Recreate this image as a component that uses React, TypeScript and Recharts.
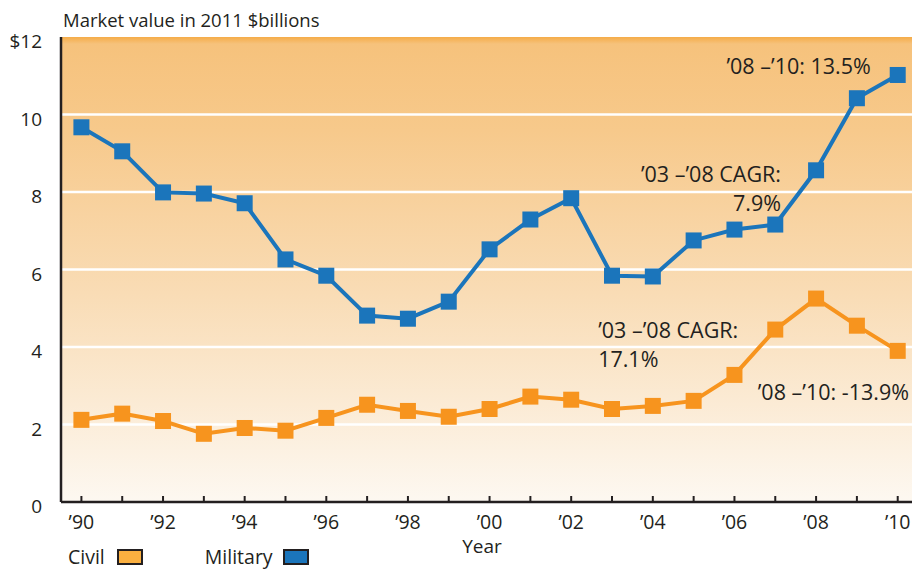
import React from "react";
import {
  LineChart,
  Line,
  XAxis,
  YAxis,
  CartesianGrid,
  ReferenceDot,
} from "recharts";

// Market value in 2011 $billions
const years = [
  1990, 1991, 1992, 1993, 1994, 1995, 1996, 1997, 1998, 1999, 2000,
  2001, 2002, 2003, 2004, 2005, 2006, 2007, 2008, 2009, 2010,
];
const military = [
  9.67, 9.05, 7.99, 7.96, 7.71, 6.26, 5.84, 4.81, 4.73, 5.17, 6.52,
  7.29, 7.84, 5.84, 5.82, 6.75, 7.03, 7.16, 8.56, 10.42, 11.02,
];
const civil = [
  2.12, 2.28, 2.09, 1.76, 1.91, 1.84, 2.17, 2.51, 2.35, 2.2, 2.4,
  2.72, 2.64, 2.4, 2.48, 2.61, 3.28, 4.45, 5.25, 4.55, 3.9,
];
const yTicks = [0, 2, 4, 6, 8, 10, 12];
const gridValues = [2, 4, 6, 8, 10];

// annotation text, anchored in data units (first line centre)
const notes = [
  { x: 2009.34, y: 11.25, anchor: "end", gap: 0, lines: ["\u201908 \u2013\u201910: 13.5%"] },
  { x: 2007.14, y: 8.46, anchor: "end", gap: 29, lines: ["\u201903 \u2013\u201908 CAGR:", "7.9%"] },
  { x: 2002.66, y: 4.44, anchor: "start", gap: 29, lines: ["\u201903 \u2013\u201908 CAGR:", "17.1%"] },
  { x: 2006.57, y: 2.84, anchor: "start", gap: 0, lines: ["\u201908 \u2013\u201910: -13.9%"] },
];

const data = years.map((y, i) => ({ year: y, military: military[i], civil: civil[i] }));

const INK = "#231f20";
const BLUE = "#1b75bb";
const ORANGE = "#f7941e";
const FONT = "'Open Sans', sans-serif";

const Square = (color: string) => (props: any) => {
  const { cx, cy } = props;
  if (cx == null || cy == null) return null;
  return <rect x={cx - 8} y={cy - 8} width={16} height={16} fill={color} />;
};

const XTick = (props: any) => {
  const { x, y, payload } = props;
  const yr = payload.value as number;
  return (
    <g>
      <line x1={x} x2={x} y1={y} y2={y - 6} stroke={INK} strokeWidth={2} />
      {yr % 2 === 0 && (
        <text x={x} y={y + 27} textAnchor="middle" fill={INK} fontSize={19.5} fontFamily={FONT}>
          {"\u2019" + String(yr).slice(2)}
        </text>
      )}
    </g>
  );
};

const YTick = (props: any) => {
  const { x, y, payload } = props;
  const v = payload.value as number;
  return (
    <text x={x} y={y + 11} textAnchor="end" fill={INK} fontSize={19} fontFamily={FONT}>
      {v === 12 ? "$12" : String(v)}
    </text>
  );
};

const NoteText = (lines: string[], anchor: string, gap: number) => (props: any) => {
  const { cx, cy } = props;
  return (
    <text x={cx} y={cy + 8} textAnchor={anchor} fill={INK} fontSize={21.5} fontFamily={FONT}>
      {lines.map((l, i) => (
        <tspan key={i} x={cx} dy={i === 0 ? 0 : gap}>
          {l}
        </tspan>
      ))}
    </text>
  );
};

export default function App() {
  return (
    <div style={{ position: "absolute", left: 0, top: 0, width: 913, height: 569, background: "#fff", fontFamily: FONT, color: INK }}>
      <div style={{ position: "absolute", left: 63, top: 8, fontSize: 18.5, lineHeight: "24px" }}>Market value in 2011 $billions</div>
      <LineChart width={913} height={569} data={data} margin={{ top: 37, right: 1, left: 0, bottom: 37 }}>
        <defs>
          <linearGradient id="bg" x1="0" y1="0" x2="0" y2="1">
            <stop offset="0" stopColor="#f5ac48" />
            <stop offset="0.015" stopColor="#f6c27c" />
            <stop offset="0.2" stopColor="#f7c98b" />
            <stop offset="0.55" stopColor="#f9dcb5" />
            <stop offset="1" stopColor="#fdf8f1" />
          </linearGradient>
        </defs>
        <CartesianGrid
          vertical={false}
          horizontalValues={gridValues}
          stroke="#ffffff"
          strokeWidth={2.5}
          fill="url(#bg)"
          fillOpacity={1}
        />
        <XAxis
          dataKey="year"
          type="number"
          domain={[1989.5, 2010.35]}
          ticks={years}
          interval={0}
          height={30}
          tickSize={0}
          tickMargin={0}
          tick={<XTick />}
          axisLine={{ stroke: INK, strokeWidth: 2.5 }}
          allowDataOverflow
        />
        <YAxis
          type="number"
          domain={[0, 12]}
          ticks={yTicks}
          width={61}
          tickSize={0}
          tickMargin={19}
          tick={<YTick />}
          axisLine={{ stroke: INK, strokeWidth: 2.5 }}
        />
        <Line
          dataKey="military"
          stroke={BLUE}
          strokeWidth={4}
          dot={Square(BLUE)}
          activeDot={false}
          isAnimationActive={false}
        />
        <Line
          dataKey="civil"
          stroke={ORANGE}
          strokeWidth={4}
          dot={Square(ORANGE)}
          activeDot={false}
          isAnimationActive={false}
        />
        {notes.map((n, i) => (
          <ReferenceDot key={i} x={n.x} y={n.y} r={0} shape={NoteText(n.lines, n.anchor, n.gap)} ifOverflow="visible" />
        ))}
      </LineChart>
      <div style={{ position: "absolute", left: 482, top: 536, fontSize: 19, lineHeight: "20px", transform: "translateX(-50%)" }}>Year</div>
      <div style={{ position: "absolute", left: 68, top: 547, height: 20, lineHeight: "20px", fontSize: 19.5, display: "flex", alignItems: "center" }}>
        <span>Civil</span>
        <span style={{ display: "inline-block", width: 22, height: 12, background: "#fbb040", border: `2px solid ${INK}`, marginLeft: 12 }} />
        <span style={{ marginLeft: 62 }}>Military</span>
        <span style={{ display: "inline-block", width: 22, height: 12, background: BLUE, border: `2px solid ${INK}`, marginLeft: 10 }} />
      </div>
    </div>
  );
}
